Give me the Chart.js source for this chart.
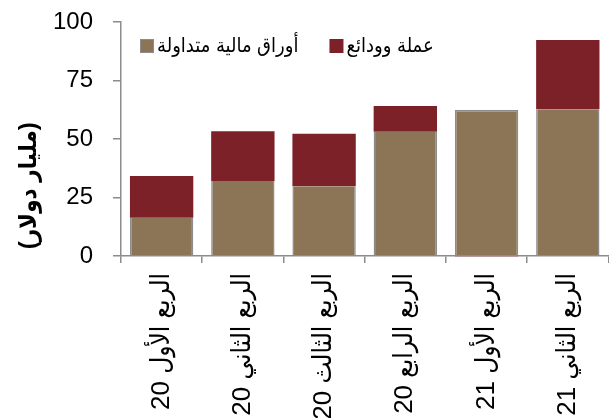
<!DOCTYPE html>
<html>
<head>
<meta charset="utf-8">
<script src="https://cdn.jsdelivr.net/npm/chart.js@4.4.1/dist/chart.umd.min.js"></script>
<style>
  body { margin: 0; background: #fff; }
</style>
</head>
<body>
<canvas id="chart" width="609" height="418"></canvas>
<script>
// quarters and values (billion dollars)
var quarters = ['الربع الأول 20', 'الربع الثاني 20', 'الربع الثالث 20', 'الربع الرابع 20', 'الربع الأول 21', 'الربع الثاني 21'];
var securities = [16.3, 32, 29.8, 53.1, 62.4, 62.7];
var deposits = [17.9, 21.3, 22.4, 11, -0.4, 29.6];
var seriesNames = ['أوراق مالية متداولة', 'عملة وودائع'];
var yTicks = [0, 25, 50, 75, 100];
var yTitle = '\u00a0(مليار دولار)';

var fontFamily = '"Liberation Sans", "DejaVu Sans Condensed", "DejaVu Sans", sans-serif';
var axisGrey = '#8c8c8c';

// legend drawn inside the plot area, like the original
var insideLegend = {
    id: 'insideLegend',
    afterDraw: function (chart) {
        var ctx = chart.ctx;
        var x = chart.chartArea.left + 19;
        var y = 46;
        ctx.save();
        ctx.font = '20px ' + fontFamily;
        ctx.textBaseline = 'middle';
        ctx.textAlign = 'left';
        chart.data.datasets.forEach(function (ds, i) {
            ctx.fillStyle = ds.backgroundColor;
            ctx.fillRect(x, y - 7, 14, 14);
            if (i === 0) {
                ctx.strokeStyle = axisGrey;
                ctx.lineWidth = 1;
                ctx.strokeRect(x + 0.5, y - 6.5, 13, 13);
            }
            ctx.fillStyle = '#000';
            ctx.fillText(ds.label, x + 17, y);
            x += 17 + ctx.measureText(ds.label).width + 31;
        });
        ctx.restore();
    }
};

var ctx = document.getElementById('chart').getContext('2d');
var chart = new Chart(ctx, {
    type: 'bar',
    data: {
        labels: quarters,
        datasets: [{
            label: seriesNames[0],
            data: securities,
            backgroundColor: '#8b7556',
            borderColor: axisGrey,
            borderWidth: function (c) {
                var top = deposits[c.dataIndex] > 0 ? 0 : 1.5;
                return { left: 1.5, right: 1.5, top: top, bottom: 0 };
            },
            borderSkipped: false,
            clip: false
        }, {
            label: seriesNames[1],
            data: deposits,
            backgroundColor: '#7c2128',
            borderWidth: 0,
            clip: false
        }]
    },
    options: {
        responsive: false,
        animation: false,
        layout: { padding: { top: 22, left: 10, right: 0, bottom: 0 } },
        plugins: {
            legend: { display: false },
            tooltip: { enabled: false }
        },
        datasets: {
            bar: { categoryPercentage: 1, barPercentage: 0.78 }
        },
        scales: {
            x: {
                stacked: true,
                grid: {
                    drawOnChartArea: false,
                    color: axisGrey,
                    tickLength: 7,
                    lineWidth: 1.5
                },
                border: { color: axisGrey, width: 1.5 },
                ticks: {
                    minRotation: 90,
                    maxRotation: 90,
                    padding: 10,
                    color: '#000',
                    font: { family: fontFamily, size: 26 }
                },
                afterFit: function (axis) { axis.height = 162; }
            },
            y: {
                stacked: true,
                min: yTicks[0],
                max: yTicks[yTicks.length - 1],
                afterBuildTicks: function (axis) {
                    axis.ticks = yTicks.map(function (v) { return { value: v }; });
                },
                grid: {
                    drawOnChartArea: false,
                    color: axisGrey,
                    tickLength: 8,
                    lineWidth: 1.5
                },
                border: { color: axisGrey, width: 1.5 },
                ticks: {
                    padding: 20,
                    color: '#000',
                    font: { family: fontFamily, size: 24 }
                },
                title: {
                    display: true,
                    text: yTitle,
                    align: 'start',
                    color: '#000',
                    padding: { top: 5, bottom: 0 },
                    font: { family: fontFamily, size: 24, weight: 'bold' }
                },
                afterFit: function (axis) {
                    axis.width = 111;
                    axis.paddingTop = 0;
                    axis.paddingBottom = 0;
                }
            }
        }
    },
    plugins: [insideLegend]
});
</script>
</body>
</html>
